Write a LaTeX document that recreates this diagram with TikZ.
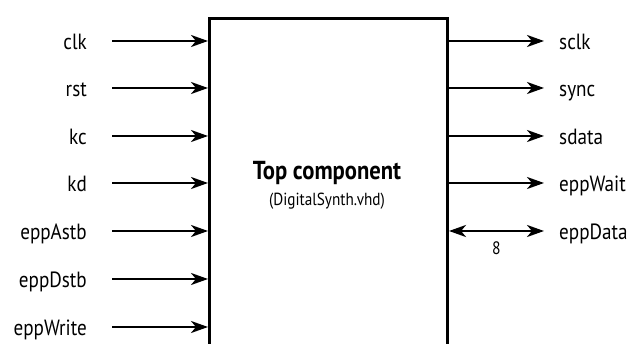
\documentclass[tikz,border=0pt]{standalone}
\usepackage{fontspec}
\setmainfont{PT Sans}[FakeStretch=0.87]
\usetikzlibrary{arrows.meta}
\newcommand{\sigfont}{\fontsize{22}{22}\selectfont}
\tikzset{inport/.style = {anchor=east, font=\sigfont, text height=18pt, text depth=0pt, inner sep=0pt}}
\tikzset{outport/.style = {anchor=west, font=\sigfont, text height=18pt, text depth=0pt, inner sep=0pt}}
\tikzset{wire/.style = {-{Stealth[length=17pt,width=12pt,inset=5pt]}, line width=2.5pt}}
\tikzset{bus/.style = {{Stealth[length=17pt,width=12pt,inset=5pt]}-{Stealth[length=17pt,width=12pt,inset=5pt]}, line width=2.5pt}}

\begin{document}
\begin{tikzpicture}[x=1pt,y=-1pt]
        \clip (0,0) rectangle (641,344);
        \node[draw, line width=3pt, minimum width=238pt, minimum height=360pt, anchor=north west] (top) at (208,17) {};
        \node[font=\fontsize{26}{26}\selectfont\bfseries] (title) at (327,173) {Top component};
        \node[font=\fontsize{17.5}{17.5}\selectfont] (file) at (327,201) {(DigitalSynth.vhd)};
        % inputs
        \node[inport] (clk) at (87,41) {clk};
        \draw[wire] ([xshift=25pt]clk.east) -- (clk.east -| top.west);
        \node[inport] (rst) at (87,88) {rst};
        \draw[wire] ([xshift=25pt]rst.east) -- (rst.east -| top.west);
        \node[inport] (kc) at (87,136) {kc};
        \draw[wire] ([xshift=25pt]kc.east) -- (kc.east -| top.west);
        \node[inport] (kd) at (87,183) {kd};
        \draw[wire] ([xshift=25pt]kd.east) -- (kd.east -| top.west);
        \node[inport] (astb) at (87,231) {eppAstb};
        \draw[wire] ([xshift=25pt]astb.east) -- (astb.east -| top.west);
        \node[inport] (dstb) at (87,279) {eppDstb};
        \draw[wire] ([xshift=25pt]dstb.east) -- (dstb.east -| top.west);
        \node[inport] (write) at (87,327) {eppWrite};
        \draw[wire] ([xshift=25pt]write.east) -- (write.east -| top.west);
        % outputs
        \node[outport] (sclk) at (559,41) {sclk};
        \draw[wire] (sclk.west -| top.east) -- ([xshift=-15pt]sclk.west);
        \node[outport] (sync) at (559,88) {sync};
        \draw[wire] (sync.west -| top.east) -- ([xshift=-15pt]sync.west);
        \node[outport] (sdata) at (559,136) {sdata};
        \draw[wire] (sdata.west -| top.east) -- ([xshift=-15pt]sdata.west);
        \node[outport] (wait) at (559,183) {eppWait};
        \draw[wire] (wait.west -| top.east) -- ([xshift=-15pt]wait.west);
        \node[outport] (data) at (559,231) {eppData};
        \draw[bus] (data.west -| top.east) -- node[below=6pt, font=\fontsize{18}{18}\selectfont] (width) {8} ([xshift=-15pt]data.west);
\end{tikzpicture}
\end{document}
